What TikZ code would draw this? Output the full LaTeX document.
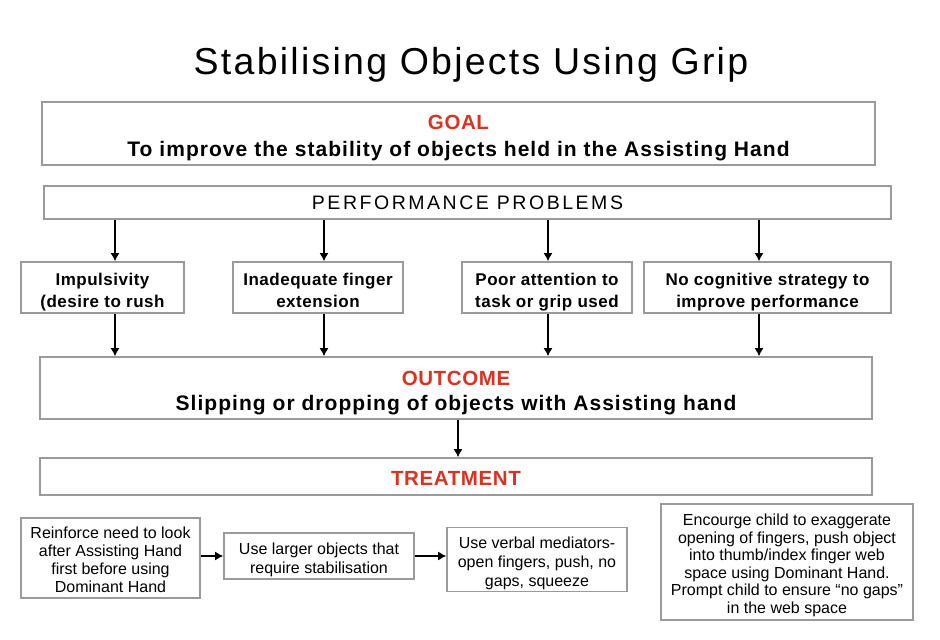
\documentclass[tikz,border=0pt]{standalone}
\usepackage{fontspec}
\setmainfont{Liberation Sans}
\usetikzlibrary{arrows.meta}
\definecolor{boxgray}{HTML}{9A9A9A}
\definecolor{headred}{HTML}{E0301E}
\tikzset{
  box/.style={draw=boxgray, line width=1.6pt, inner sep=0pt, align=center},
  arr/.style={-{Latex[length=8pt, width=9pt]}, line width=1.3pt},
  head/.style={text=headred, font=\fontsize{20.5}{22}\selectfont\bfseries\addfontfeature{LetterSpace=3}},
  bigtext/.style={font=\fontsize{21}{22}\selectfont\bfseries\addfontfeature{LetterSpace=5}},
  probtext/.style={font=\fontsize{17}{22}\selectfont\bfseries\addfontfeature{LetterSpace=3},
    text height=44pt, text depth=5pt},
  treattext/.style={font=\fontsize{16}{#1}\selectfont, text depth=5pt}
}
\begin{document}
\begin{tikzpicture}[x=1pt, y=-1pt]
            \useasboundingbox (0, 0) rectangle (940, 640);

            \node (title) at (471, 65) {\fontsize{37.5}{40}\selectfont\addfontfeature{LetterSpace=6}Stabilising Objects Using Grip};

            \node[box, minimum width=833pt, minimum height=63pt] (goal) at (458.5, 133.5) {};
            \node[head] (goalhead) at (458.5, 122) {GOAL};
            \node[bigtext] (goaltext) at (458.5, 151.5) {To improve the stability of objects held in the Assisting Hand};

            \node[box, minimum width=847pt, minimum height=33pt, font=\fontsize{19.5}{22}\selectfont\addfontfeature{LetterSpace=13}] (perf) at (467.5, 202.5) {PERFORMANCE PROBLEMS};

            % problems
            \node[box, probtext, minimum width=163pt, minimum height=51pt] (impuls) at (102.5, 287.5) {Impulsivity\\(desire to rush};
            \node[box, probtext, minimum width=170pt, minimum height=51pt] (finger) at (318, 287.5) {Inadequate finger\\extension};
            \node[box, probtext, minimum width=170pt, minimum height=51pt] (attent) at (547, 287.5) {Poor attention to\\task or grip used};
            \node[box, probtext, minimum width=247pt, minimum height=51pt] (strat) at (767.5, 287.5) {No cognitive strategy to\\improve performance};

            \node[box, minimum width=832pt, minimum height=62pt] (outc) at (456, 388) {};
            \node[head] (outchead) at (456, 378) {OUTCOME};
            \node[bigtext] (outctext) at (456, 405.5) {Slipping or dropping of objects with Assisting hand};

            \node[box, head, minimum width=832pt, minimum height=37pt, text height=18pt, text depth=0pt] (treat) at (456, 476.5) {TREATMENT};

            % treatments
            \node[box, treattext=18, text height=74pt, minimum width=179pt, minimum height=80pt] (reinf) at (110.5, 558) {Reinforce need to look\\after Assisting Hand\\first before using\\Dominant Hand};
            \node[box, treattext=18.7, text height=39pt, minimum width=190pt, minimum height=46pt] (larger) at (319, 556) {Use larger objects that\\require stabilisation};
            \node[box, treattext=19.2, text height=59pt, minimum width=180pt, minimum height=63pt] (verbal) at (537, 559.5) {Use verbal mediators-\\open fingers, push, no\\gaps, squeeze};
            \node[box, treattext=17.6, text height=108pt, minimum width=252pt, minimum height=116pt] (exagg) at (787, 562) {Encourge child to exaggerate\\opening of fingers, push object\\into thumb/index finger web\\space using Dominant Hand.\\Prompt child to ensure \textquotedblleft no gaps\textquotedblright\\in the web space};

            \coordinate (c1) at (115, 0);
            \coordinate (c2) at (324, 0);
            \coordinate (c3) at (548, 0);
            \coordinate (c4) at (759, 0);
            \coordinate (c5) at (458, 0);

            \draw[arr] (c1 |- perf.south) -- (c1 |- impuls.north);
            \draw[arr] (c2 |- perf.south) -- (c2 |- finger.north);
            \draw[arr] (c3 |- perf.south) -- (c3 |- attent.north);
            \draw[arr] (c4 |- perf.south) -- (c4 |- strat.north);

            \draw[arr] (c1 |- impuls.south) -- (c1 |- outc.north);
            \draw[arr] (c2 |- finger.south) -- (c2 |- outc.north);
            \draw[arr] (c3 |- attent.south) -- (c3 |- outc.north);
            \draw[arr] (c4 |- strat.south) -- (c4 |- outc.north);

            \draw[arr] (c5 |- outc.south) -- (c5 |- treat.north);

            \draw[arr] (reinf.east |- larger.west) -- (larger.west);
            \draw[arr] (larger.east) -- (larger.east -| verbal.west);
\end{tikzpicture}
\end{document}
